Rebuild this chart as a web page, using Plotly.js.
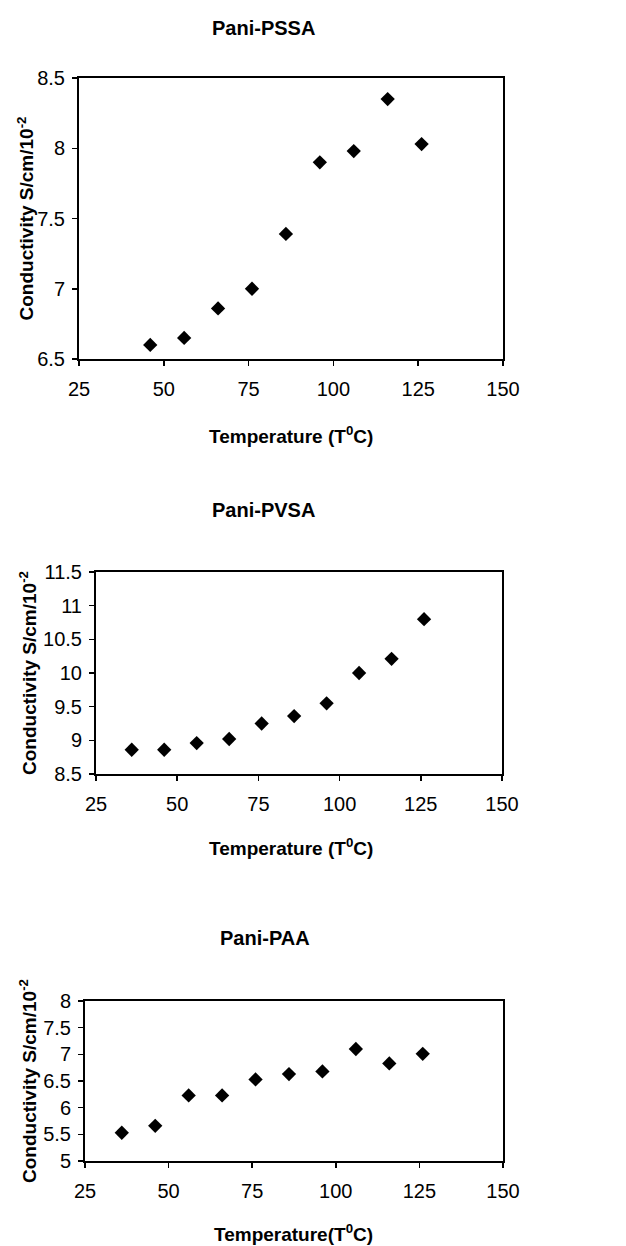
<!DOCTYPE html>
<html>
<head>
<meta charset="utf-8">
<script src="https://cdn.plot.ly/plotly-3.0.1.min.js"></script>
<style>html,body{margin:0;padding:0;background:#fff;}#chart{width:626px;height:1246px;}</style>
</head>
<body>
<div id="chart"></div>
<script>
// Data
const titles = ["Pani-PSSA", "Pani-PVSA", "Pani-PAA"];
const xTitles = ["Temperature (T<sup>0</sup>C)", "Temperature (T<sup>0</sup>C)", "Temperature(T<sup>0</sup>C)"];
const yTitle = "Conductivity S/cm/10<sup>-2</sup>";

const tempPSSA = [46, 56, 66, 76, 86, 96, 106, 116, 126];
const condPSSA = [6.60, 6.65, 6.86, 7.00, 7.39, 7.90, 7.98, 8.35, 8.03];

const tempPVSA = [36, 46, 56, 66, 76, 86, 96, 106, 116, 126];
const condPVSA = [8.86, 8.86, 8.96, 9.02, 9.25, 9.36, 9.55, 10.00, 10.21, 10.80];

const tempPAA = [36, 46, 56, 66, 76, 86, 96, 106, 116, 126];
const condPAA = [5.53, 5.66, 6.23, 6.23, 6.53, 6.63, 6.68, 7.10, 6.83, 7.01];

const xRange = [25, 150];
const yRanges = [[6.5, 8.5], [8.5, 11.5], [5, 8]];

// Layout geometry (pixels)
const W = 626, H = 1246;
const boxes = [
  {l: 79, r: 503, t: 78, b: 359, titleX: 263, titleY: 28, xtX: 291, xtY: 435, ytX: 25},
  {l: 96, r: 502, t: 572, b: 774, titleX: 263, titleY: 510, xtX: 291, xtY: 847, ytX: 28},
  {l: 85, r: 503, t: 1001, b: 1161, titleX: 265, titleY: 938, xtX: 293, xtY: 1233, ytX: 28}
];

const font = "Liberation Sans, Arial, Helvetica, sans-serif";
const xs = [tempPSSA, tempPVSA, tempPAA];
const ys = [condPSSA, condPVSA, condPAA];

const data = [];
const layout = {
  width: W, height: H,
  margin: {l: 0, r: 0, t: 0, b: 0},
  paper_bgcolor: "#fff", plot_bgcolor: "#fff",
  showlegend: false,
  font: {family: font, color: "#000", size: 18},
  annotations: []
};

for (let i = 0; i < 3; i++) {
  const bx = boxes[i];
  const sfx = i === 0 ? "" : String(i + 1);
  data.push({
    type: "scatter", mode: "markers",
    x: xs[i], y: ys[i],
    xaxis: "x" + sfx, yaxis: "y" + sfx,
    marker: {symbol: "diamond", size: 11, color: "#000"},
    cliponaxis: false
  });
  const axCommon = {
    showline: true, mirror: true, linecolor: "#000", linewidth: 2,
    showgrid: false, zeroline: false,
    ticks: "outside", ticklen: 5, tickwidth: 1.5, tickcolor: "#000",
    tickfont: {family: font, size: 20, color: "#000"},
    fixedrange: true
  };
  layout["xaxis" + sfx] = Object.assign({}, axCommon, {
    domain: [bx.l / W, bx.r / W],
    range: xRange, dtick: 25, tick0: 25,
    ticklabelstandoff: 6,
    anchor: "y" + sfx
  });
  layout["yaxis" + sfx] = Object.assign({}, axCommon, {
    domain: [1 - bx.b / H, 1 - bx.t / H],
    range: yRanges[i], dtick: 0.5,
    ticklabelstandoff: 3,
    anchor: "x" + sfx
  });
  layout.annotations.push({
    xref: "paper", yref: "paper", x: bx.titleX / W, y: 1 - bx.titleY / H,
    xanchor: "center", yanchor: "middle", showarrow: false,
    text: "<b>" + titles[i] + "</b>", font: {family: font, size: 20, color: "#000"}
  });
  layout.annotations.push({
    xref: "paper", yref: "paper", x: bx.xtX / W, y: 1 - bx.xtY / H,
    xanchor: "center", yanchor: "middle", showarrow: false,
    text: "<b>" + xTitles[i] + "</b>", font: {family: font, size: 19, color: "#000"}
  });
  layout.annotations.push({
    xref: "paper", yref: "paper", x: bx.ytX / W, y: 1 - (bx.t + bx.b) / 2 / H,
    xanchor: "center", yanchor: "middle", showarrow: false, textangle: -90,
    text: "<b>" + yTitle + "</b>", font: {family: font, size: 19, color: "#000"}
  });
}

Plotly.newPlot("chart", data, layout, {staticPlot: true});
</script>
</body>
</html>
